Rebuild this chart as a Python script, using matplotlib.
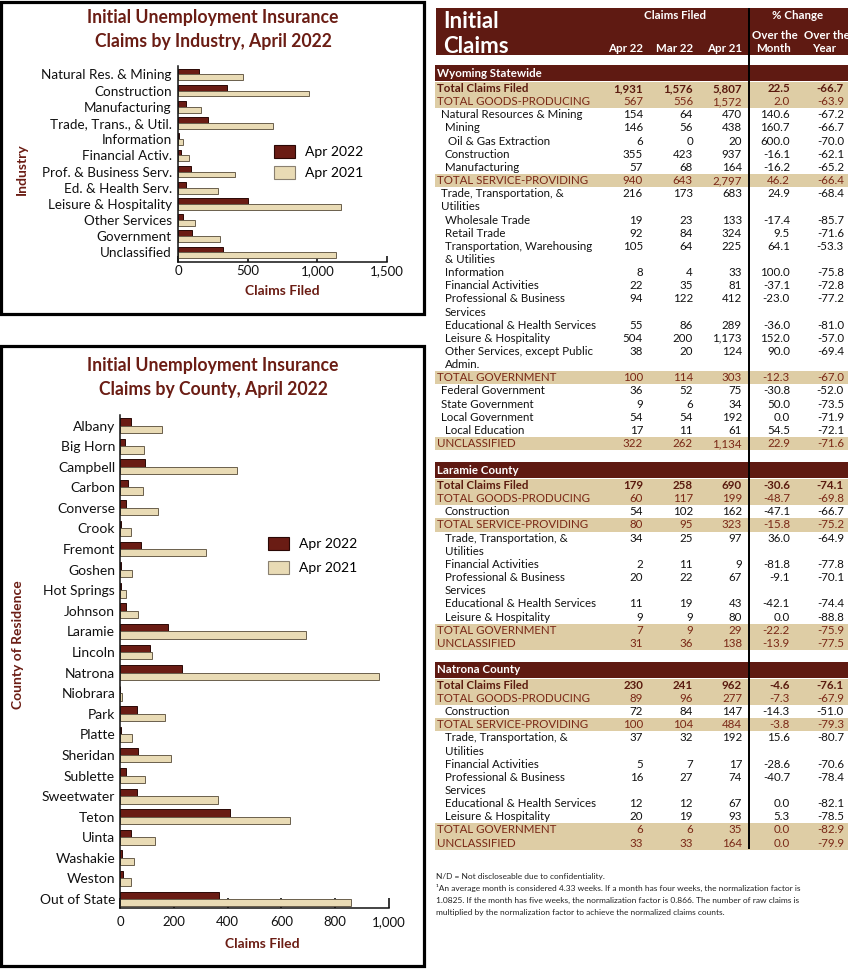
import numpy as np
import matplotlib
matplotlib.use('Agg')
import matplotlib.pyplot as plt
from matplotlib.patches import Rectangle, Patch

plt.rcParams['font.family'] = ['Lato', 'DejaVu Sans']

# ---------------- data ----------------
industries = ['Natural Res. & Mining', 'Construction', 'Manufacturing',
              'Trade, Trans., & Util.', 'Information', 'Financial Activ.',
              'Prof. & Business Serv.', 'Ed. & Health Serv.', 'Leisure & Hospitality',
              'Other Services', 'Government', 'Unclassified']
ind_apr2022 = [154, 355, 57, 216, 8, 22, 94, 55, 504, 38, 100, 322]
ind_apr2021 = [470, 937, 164, 683, 33, 81, 412, 289, 1173, 124, 303, 1134]

counties = ['Albany', 'Big Horn', 'Campbell', 'Carbon', 'Converse', 'Crook',
            'Fremont', 'Goshen', 'Hot Springs', 'Johnson', 'Laramie', 'Lincoln',
            'Natrona', 'Niobrara', 'Park', 'Platte', 'Sheridan', 'Sublette',
            'Sweetwater', 'Teton', 'Uinta', 'Washakie', 'Weston', 'Out of State']
cty_apr2022 = [40, 19, 92, 28, 22, 3, 77, 3, 2, 22, 179, 110,
               230, 1, 62, 3, 67, 21, 62, 410, 42, 9, 11, 367]
cty_apr2021 = [157, 89, 434, 87, 141, 41, 320, 45, 21, 67, 690, 120,
               962, 9, 166, 46, 190, 93, 364, 633, 130, 52, 41, 859]

ind_xticks = [0, 500, 1000, 1500]
cty_xticks = [0, 200, 400, 600, 800, 1000]

wy_labels = ['Total Claims Filed', 'TOTAL GOODS-PRODUCING', 'Natural Resources & Mining',
             'Mining', 'Oil & Gas Extraction', 'Construction', 'Manufacturing',
             'TOTAL SERVICE-PROVIDING', 'Trade, Transportation, &\nUtilities',
             'Wholesale Trade', 'Retail Trade', 'Transportation, Warehousing\n& Utilities',
             'Information', 'Financial Activities', 'Professional & Business\nServices',
             'Educational & Health Services', 'Leisure & Hospitality',
             'Other Services, except Public\nAdmin.', 'TOTAL GOVERNMENT',
             'Federal Government', 'State Government', 'Local Government',
             'Local Education', 'UNCLASSIFIED']
wy_apr22 = [1931, 567, 154, 146, 6, 355, 57, 940, 216, 19, 92, 105, 8, 22, 94, 55, 504, 38,
            100, 36, 9, 54, 17, 322]
wy_mar22 = [1576, 556, 64, 56, 0, 423, 68, 643, 173, 23, 84, 64, 4, 35, 122, 86, 200, 20,
            114, 52, 6, 54, 11, 262]
wy_apr21 = [5807, 1572, 470, 438, 20, 937, 164, 2797, 683, 133, 324, 225, 33, 81, 412, 289,
            1173, 124, 303, 75, 34, 192, 61, 1134]
wy_month = [22.5, 2.0, 140.6, 160.7, 600.0, -16.1, -16.2, 46.2, 24.9, -17.4, 9.5, 64.1,
            100.0, -37.1, -23.0, -36.0, 152.0, 90.0, -12.3, -30.8, 50.0, 0.0, 54.5, 22.9]
wy_year = [-66.7, -63.9, -67.2, -66.7, -70.0, -62.1, -65.2, -66.4, -68.4, -85.7, -71.6, -53.3,
           -75.8, -72.8, -77.2, -81.0, -57.0, -69.4, -67.0, -52.0, -73.5, -71.9, -72.1, -71.6]

county_labels = ['Total Claims Filed', 'TOTAL GOODS-PRODUCING', 'Construction',
                 'TOTAL SERVICE-PROVIDING', 'Trade, Transportation, &\nUtilities',
                 'Financial Activities', 'Professional & Business\nServices',
                 'Educational & Health Services', 'Leisure & Hospitality',
                 'TOTAL GOVERNMENT', 'UNCLASSIFIED']
lar_apr22 = [179, 60, 54, 80, 34, 2, 20, 11, 9, 7, 31]
lar_mar22 = [258, 117, 102, 95, 25, 11, 22, 19, 9, 9, 36]
lar_apr21 = [690, 199, 162, 323, 97, 9, 67, 43, 80, 29, 138]
lar_month = [-30.6, -48.7, -47.1, -15.8, 36.0, -81.8, -9.1, -42.1, 0.0, -22.2, -13.9]
lar_year = [-74.1, -69.8, -66.7, -75.2, -64.9, -77.8, -70.1, -74.4, -88.8, -75.9, -77.5]

nat_apr22 = [230, 89, 72, 100, 37, 5, 16, 12, 20, 6, 33]
nat_mar22 = [241, 96, 84, 104, 32, 7, 27, 12, 19, 6, 33]
nat_apr21 = [962, 277, 147, 484, 192, 17, 74, 67, 93, 35, 164]
nat_month = [-4.6, -7.3, -14.3, -3.8, 15.6, -28.6, -40.7, 0.0, 5.3, 0.0, 0.0]
nat_year = [-76.1, -67.9, -51.0, -79.3, -80.7, -70.6, -78.4, -82.1, -78.5, -82.9, -79.9]

footnotes = ['N/D = Not discloseable due to confidentiality.',
             '\u00b9An average month is considered 4.33 weeks. If a month has four weeks, the normalization factor is',
             '1.0825. If the month has five weeks, the normalization factor is 0.866. The number of raw claims is',
             'multiplied by the normalization factor to achieve the normalized claims counts.']

# ---------------- styles ----------------
wy_style = ['t', 'g', 1, 2, 3, 2, 2, 'g', 1, 2, 2, 2, 2, 2, 2, 2, 2, 2, 'g', 1, 1, 1, 2, 'g']
county_style = ['t', 'g', 2, 'g', 2, 2, 2, 2, 2, 'g', 'g']

MAROON = '#5F1A12'
TITLE_C = '#6B1D14'
BAR22 = '#6A1C14'
BAR21 = '#E9DBB5'
BAND = '#DECDA5'
TOTAL_TXT = '#5A1A0E'
GROUP_TXT = '#7A2816'

W, H = 850, 969
fig = plt.figure(figsize=(W / 100, H / 100), dpi=100)
bg = fig.add_axes([0, 0, 1, 1], zorder=0)
bg.set_xlim(0, W)
bg.set_ylim(H, 0)
bg.axis('off')


def frac_rect(x0, y0, x1, y1):
    return [x0 / W, 1 - y1 / H, (x1 - x0) / W, (y1 - y0) / H]


def bar_panel(px, cats, v22, v21, xmax, xticks, ylim, lab_fs, lab_pad, tick_len, tick_pad,
              leg_xy, leg_spacing):
    ax = fig.add_axes(frac_rect(*px), zorder=2)
    ax.set_axisbelow(True)
    y = np.arange(len(cats))
    ax.barh(y - 0.18, v22, height=0.36, color=BAR22, edgecolor='#2a0805', linewidth=0.7,
            label='Apr 2022', zorder=2)
    ax.barh(y + 0.18, v21, height=0.36, color=BAR21, edgecolor='#6a5f4c', linewidth=0.7,
            label='Apr 2021', zorder=2)
    ax.set_xlim(0, xmax)
    ax.set_ylim(ylim[1], ylim[0])
    ax.set_yticks(y)
    ax.set_yticklabels(cats, fontsize=lab_fs, color='#111111')
    ax.tick_params(axis='y', length=0, pad=lab_pad)
    ax.set_xticks(xticks)
    ax.set_xticklabels([f'{t:,}' for t in xticks], fontsize=9.5, color='#111111')
    ax.tick_params(axis='x', direction='in', length=tick_len, width=1.1, pad=tick_pad)
    for s in ['top', 'right']:
        ax.spines[s].set_visible(False)
    for s in ['left', 'bottom']:
        ax.spines[s].set_linewidth(1.1)
        ax.spines[s].set_color('#111111')
        ax.spines[s].set_zorder(3)
    ax.patch.set_alpha(0)
    handles = [Patch(facecolor=BAR22, edgecolor='#2a0805', lw=0.8, label='Apr 2022'),
               Patch(facecolor=BAR21, edgecolor='#8a8070', lw=0.8, label='Apr 2021')]
    ax.legend(handles=handles, loc='upper left',
              bbox_to_anchor=(leg_xy[0] / W, 1 - leg_xy[1] / H), bbox_transform=fig.transFigure,
              frameon=False, fontsize=10, handlelength=1.5, handleheight=1.1,
              labelspacing=leg_spacing, handletextpad=0.75, borderpad=0, borderaxespad=0)
    return ax


# ---------------- left panels ----------------
bg.add_patch(Rectangle((1.5, 1.5), 422.5, 312, fill=False, lw=2.3, ec='black', zorder=5))
bg.add_patch(Rectangle((1.5, 346), 422.5, 620.5, fill=False, lw=2.3, ec='black', zorder=5))

TFS = 12.7
fig.text(213 / W, 1 - 18 / H, 'Initial Unemployment Insurance', ha='center', va='center',
         fontsize=TFS, fontweight='bold', color=TITLE_C)
fig.text(213 / W, 1 - 42 / H, 'Claims by Industry, April 2022', ha='center', va='center',
         fontsize=TFS, fontweight='bold', color=TITLE_C)
fig.text(22 / W, 1 - 169 / H, 'Industry', rotation=90, ha='center', va='center',
         fontsize=10, fontweight='bold', color=TITLE_C)
fig.text(282 / W, 1 - 291 / H, 'Claims Filed', ha='center', va='center',
         fontsize=10, fontweight='bold', color=TITLE_C)

bar_panel((178, 65.7, 387, 262), industries, ind_apr2022, ind_apr2021, 1500, ind_xticks,
          (-0.54, 11.59), 9.7, 4.5, 4, 2, (274, 145), 0.55)

fig.text(213 / W, 1 - 366 / H, 'Initial Unemployment Insurance', ha='center', va='center',
         fontsize=TFS, fontweight='bold', color=TITLE_C)
fig.text(213 / W, 1 - 389 / H, 'Claims by County, April 2022', ha='center', va='center',
         fontsize=TFS, fontweight='bold', color=TITLE_C)
fig.text(18 / W, 1 - 645 / H, 'County of Residence', rotation=90, ha='center', va='center',
         fontsize=10, fontweight='bold', color=TITLE_C)
fig.text(262 / W, 1 - 944 / H, 'Claims Filed', ha='center', va='center',
         fontsize=10, fontweight='bold', color=TITLE_C)

bar_panel((120, 415, 389, 907.7), counties, cty_apr2022, cty_apr2021, 1000, cty_xticks,
          (-0.51, 23.42), 10, 3.5, 7, 6, (268, 537), 0.75)

# ---------------- table ----------------
TX0, TX1 = 435, 848
LH = 13.15
COLS = [643, 693, 742, 790, 844]
INDENT = {0: 437, 1: 441.5, 2: 445, 3: 448}
FS = 8.3

bg.add_patch(Rectangle((436, 8), 412, 47, color=MAROON, lw=0, zorder=1))
bg.text(443, 21, 'Initial', color='white', fontsize=16, fontweight='bold', va='center', zorder=3)
bg.text(443, 46, 'Claims', color='white', fontsize=16, fontweight='bold', va='center', zorder=3)
HFS = 8.3
bg.text(675, 15, 'Claims Filed', color='white', fontsize=HFS, fontweight='bold', ha='center', va='center', zorder=3)
bg.text(798, 15, '% Change', color='white', fontsize=HFS, fontweight='bold', ha='center', va='center', zorder=3)
bg.text(775, 35, 'Over the', color='white', fontsize=HFS, fontweight='bold', ha='center', va='center', zorder=3)
bg.text(827, 35, 'Over the', color='white', fontsize=HFS, fontweight='bold', ha='center', va='center', zorder=3)
bg.text(774, 48, 'Month', color='white', fontsize=HFS, fontweight='bold', ha='center', va='center', zorder=3)
bg.text(824, 48, 'Year', color='white', fontsize=HFS, fontweight='bold', ha='center', va='center', zorder=3)
for xr, t in zip(COLS[:3], ['Apr 22', 'Mar 22', 'Apr 21']):
    bg.text(xr, 48, t, color='white', fontsize=HFS, fontweight='bold', ha='right', va='center', zorder=3)


def draw_section(title, band_y, labels, styles, a22, m22, a21, mon, yr):
    bg.add_patch(Rectangle((TX0, band_y - 7.75), TX1 - TX0, 15.5, color=MAROON, lw=0, zorder=1))
    bg.text(437, band_y, title, color='white', fontsize=8.3, fontweight='bold', va='center', zorder=3)
    y = band_y + 15.5
    for lab, st, v1, v2, v3, p1, p2 in zip(labels, styles, a22, m22, a21, mon, yr):
        lines = lab.split('\n')
        if st in ('t', 'g'):
            bg.add_patch(Rectangle((TX0, y - LH / 2), TX1 - TX0, LH * len(lines), color=BAND,
                                   lw=0, zorder=1))
            color = TOTAL_TXT if st == 't' else GROUP_TXT
            weight = 'bold' if st == 't' else 'normal'
            x0 = INDENT[0]
        else:
            color = '#111111'
            weight = 'normal'
            x0 = INDENT[st]
        for k, line in enumerate(lines):
            bg.text(x0, y + k * LH, line, fontsize=FS, color=color, fontweight=weight,
                    va='center', zorder=3)
        vals = [f'{v1:,}', f'{v2:,}', f'{v3:,}', f'{p1:.1f}', f'{p2:.1f}']
        for xr, s in zip(COLS, vals):
            bg.text(xr, y, s, fontsize=FS, color=color, fontweight=weight, ha='right',
                    va='center', zorder=3)
        y += LH * len(lines)
    return y - LH


last = draw_section('Wyoming Statewide', 73, wy_labels, wy_style,
                    wy_apr22, wy_mar22, wy_apr21, wy_month, wy_year)
last = draw_section('Laramie County', last + 26.5, county_labels, county_style,
                    lar_apr22, lar_mar22, lar_apr21, lar_month, lar_year)
last = draw_section('Natrona County', last + 26.5, county_labels, county_style,
                    nat_apr22, nat_mar22, nat_apr21, nat_month, nat_year)

bg.plot([749, 749], [8, last + 6], color='black', lw=1.4, zorder=4, solid_capstyle='butt')

for i, line in enumerate(footnotes):
    bg.text(436, 876 + i * 12.2, line, fontsize=6, color='#222222', va='center', zorder=3)

fig.savefig('out.png', dpi=100)
